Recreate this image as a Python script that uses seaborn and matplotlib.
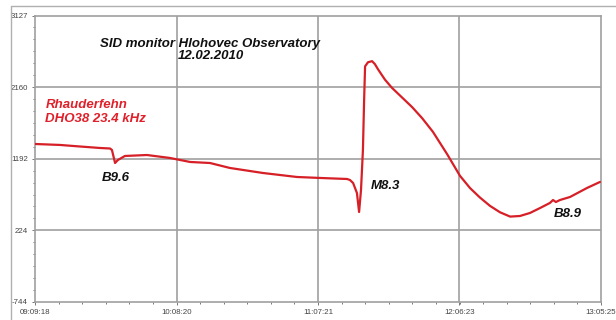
import matplotlib
matplotlib.use("Agg")
import matplotlib.pyplot as plt
from matplotlib.ticker import FixedLocator, AutoMinorLocator
from matplotlib.lines import Line2D
import seaborn as sns
import pandas as pd

# Signal strength of DHO38 (23.4 kHz) recorded at Hlohovec, 12.02.2010
minutes = [0, 10.4, 18.8, 27.1, 31.3, 32.1, 33.4, 34.6, 37.5, 46.7, 56.3, 64.7,
           73.0, 81.3, 95.1, 109.3, 118.9, 130.2, 131.4, 132.7, 134.3, 135.2,
           136.0, 136.8, 137.3, 137.7, 138.9, 140.6, 141.8, 143.1, 146.0, 148.9,
           153.1, 157.3, 161.5, 166.0, 171.9, 177.3, 181.5, 185.6, 189.8, 194.0,
           198.2, 202.3, 206.5, 210.7, 214.8, 216.1, 217.3, 219.0, 223.2, 230.3,
           235.7]
signal = [1391, 1378, 1357, 1337, 1330, 1310, 1134, 1175, 1229, 1242, 1202, 1148,
          1134, 1067, 999, 945, 932, 918, 904, 864, 729, 472,
          770, 1310, 1985, 2440, 2495, 2510, 2470, 2400, 2260, 2150,
          2020, 1890, 1740, 1555, 1255, 960, 795, 668, 555, 468,
          410, 418, 459, 526, 594, 634, 607, 634, 675, 797,
          878]

x_ticks = [0, 59.033, 118.05, 177.083, 236.117]
x_labels = ["09:09:18", "10:08:20", "11:07:21", "12:06:23", "13:05:25"]
y_ticks = [-744, 224, 1192, 2160, 3127]

flares = ["B9.6", "M8.3", "B8.9"]
flare_x = [33.8, 146.4, 222.4]
flare_y = [932, 824, 445]

df = pd.DataFrame({"t": minutes, "signal": signal})

sns.set_style("white")
plt.rcParams["font.family"] = ["Liberation Sans", "DejaVu Sans"]

fig = plt.figure(figsize=(6.16, 3.2), dpi=100)
ax = fig.add_axes([35 / 616, 18 / 320, 566 / 616, 286.5 / 320])

grid_c = "#a0a0a0"
sns.lineplot(data=df, x="t", y="signal", ax=ax, color="#d61f26", linewidth=1.6,
             zorder=3)

ax.set_xlim(x_ticks[0], x_ticks[-1])
ax.set_ylim(y_ticks[0], y_ticks[-1])
ax.xaxis.set_major_locator(FixedLocator(x_ticks))
ax.yaxis.set_major_locator(FixedLocator(y_ticks))
ax.xaxis.set_minor_locator(AutoMinorLocator(6))
ax.yaxis.set_minor_locator(AutoMinorLocator(6))
ax.set_xticklabels(x_labels)
ax.set_yticklabels([str(v) for v in y_ticks])
ax.set_xlabel("")
ax.set_ylabel("")

for v in y_ticks[1:-1]:
    ax.axhline(v, color=grid_c, lw=1.2, zorder=1)
for v in x_ticks[1:-1]:
    ax.axvline(v, color=grid_c, lw=1.2, zorder=1)

for s in ax.spines.values():
    s.set_color(grid_c)
    s.set_linewidth(1.2)

ax.tick_params(axis="both", which="major", direction="out", length=2.5,
               width=0.7, color="#777777", labelsize=5.7, labelcolor="#444444",
               pad=2.5, left=True, bottom=True)
ax.tick_params(axis="both", which="minor", direction="out", length=1.5,
               width=0.7, color="#777777", left=True, bottom=True)
for lab in ax.get_xticklabels() + ax.get_yticklabels():
    lab.set_fontfamily(["Liberation Sans Narrow", "Liberation Sans"])

txt = dict(fontweight="bold", fontstyle="italic", fontsize=9.5)
ax.text(73.0, 2742, "SID monitor Hlohovec Observatory", ha="center",
        va="center", color="#111111", **txt)
ax.text(73.3, 2575, "12.02.2010", ha="center", va="center",
        color="#111111", **txt)
ax.text(4.6, 1918, "Rhauderfehn", ha="left", va="center", color="#e0202a",
        **txt)
ax.text(4.2, 1725, "DHO38 23.4 kHz", ha="left", va="center", color="#e0202a",
        **txt)
for name, fx, fy in zip(flares, flare_x, flare_y):
    ax.text(fx, fy, name, ha="center", va="center", color="#111111", **txt)

# outer frame around the whole chart
fig.add_artist(Line2D([11 / 616, 1.0], [1 - 6 / 320, 1 - 6 / 320],
                      transform=fig.transFigure, color="#b0b0b0", lw=1.0))
fig.add_artist(Line2D([11 / 616, 11 / 616], [0, 1 - 6 / 320],
                      transform=fig.transFigure, color="#b0b0b0", lw=1.0))

fig.savefig("out.png", dpi=100)
